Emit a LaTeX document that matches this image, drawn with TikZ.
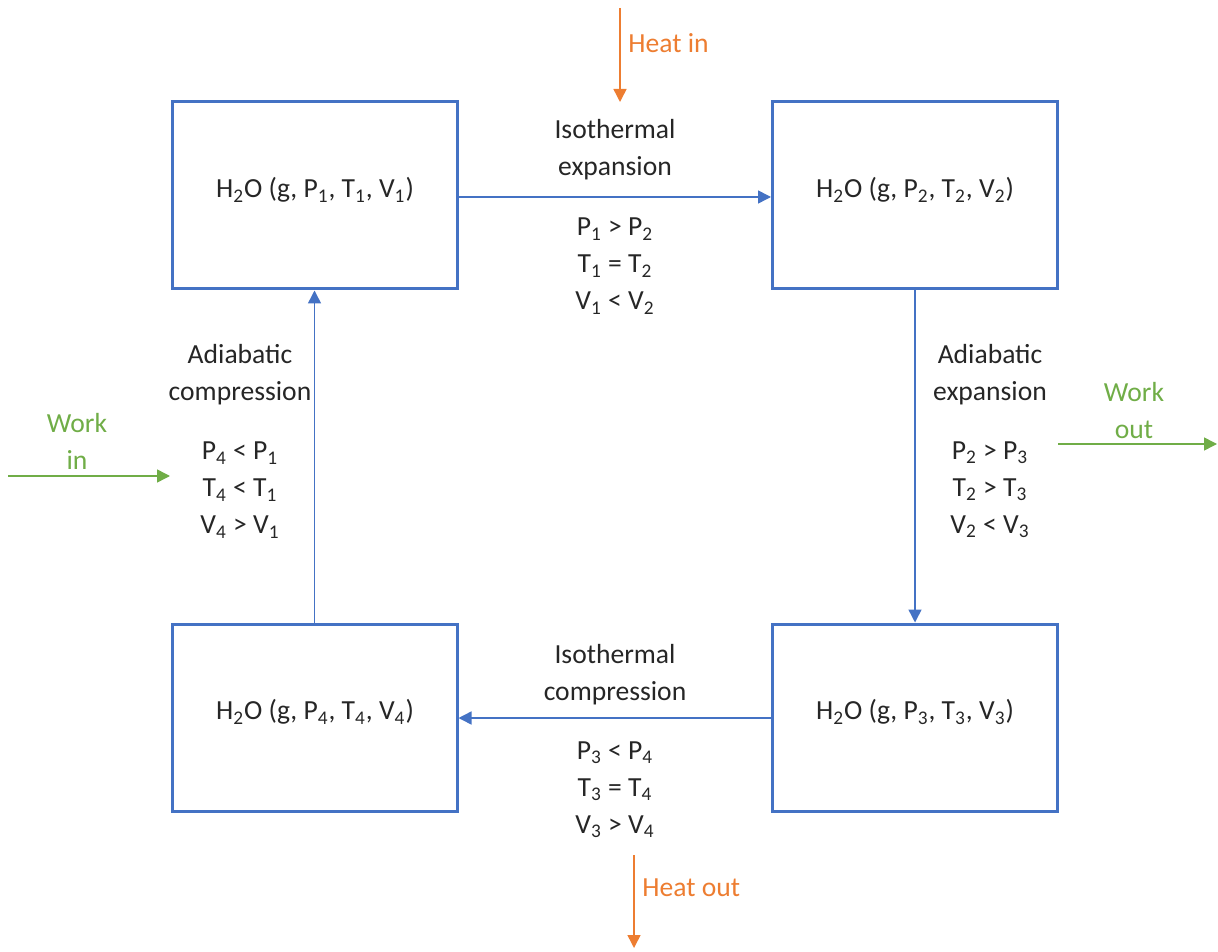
\documentclass[tikz,border=0pt]{standalone}
\usepackage{fontspec}
\setmainfont{Carlito}
\usetikzlibrary{arrows.meta}
\definecolor{boxblue}{HTML}{4472C4}
\definecolor{heatorange}{HTML}{ED7D31}
\definecolor{workgreen}{HTML}{70AD47}
\definecolor{txt}{HTML}{262626}
\newcommand{\sbs}[1]{\textsubscript{#1}}
\begin{document}
\begin{tikzpicture}[x=0.5pt,y=-0.5pt,
  every node/.style={font=\fontsize{13.8}{18.5}\selectfont, text=txt, align=center, inner sep=0pt},
  statebox/.style={draw=boxblue, line width=1.5pt, minimum width=142.5pt, minimum height=93.5pt},
  flow/.style={draw=boxblue, line width=0.75pt, -{Triangle[length=6.5pt,width=6.5pt]}},
  heat/.style={draw=heatorange, line width=0.75pt, -{Triangle[length=6.5pt,width=6.5pt]}},
  work/.style={draw=workgreen, line width=0.75pt, -{Triangle[length=6.5pt,width=6.5pt]}},
  heatlbl/.style={text=heatorange},
  worklbl/.style={text=workgreen}]
\useasboundingbox (0,0) rectangle (1218,951);
% boxes
\node[statebox] (s1) at (314.5,195.5) {};
\node[statebox] (s2) at (915,195.5) {};
\node[statebox] (s3) at (915,717.5) {};
\node[statebox] (s4) at (314.5,717.5) {};
\node (t1) at (315,190) {H\sbs{2}O (g, P\sbs{1}, T\sbs{1}, V\sbs{1})};
\node (t2) at (915,190) {H\sbs{2}O (g, P\sbs{2}, T\sbs{2}, V\sbs{2})};
\node (t3) at (915,712) {H\sbs{2}O (g, P\sbs{3}, T\sbs{3}, V\sbs{3})};
\node (t4) at (315,712) {H\sbs{2}O (g, P\sbs{4}, T\sbs{4}, V\sbs{4})};
% cycle connectors
\draw[flow] (s1.east |- 0,197) -- (s2.west |- 0,197);
\draw[flow] (s2.south) -- (s3.north);
\draw[flow] (s3.west |- 0,718) -- (s4.east |- 0,718);
\draw[flow] (s4.north) -- (s1.north |- s1.south);
% process labels
\node (l12) at (615,150) {Isothermal\\expansion};
\node (r12) at (615,266) {P\sbs{1} > P\sbs{2}\\T\sbs{1} = T\sbs{2}\\V\sbs{1} < V\sbs{2}};
\node (l23) at (990,375) {Adiabatic\\expansion};
\node (r23) at (990,490) {P\sbs{2} > P\sbs{3}\\T\sbs{2} > T\sbs{3}\\V\sbs{2} < V\sbs{3}};
\node (l34) at (615,675) {Isothermal\\compression};
\node (r34) at (615,790) {P\sbs{3} < P\sbs{4}\\T\sbs{3} = T\sbs{4}\\V\sbs{3} > V\sbs{4}};
\node (l41) at (240,375) {Adiabatic\\compression};
\node (r41) at (240,490) {P\sbs{4} < P\sbs{1}\\T\sbs{4} < T\sbs{1}\\V\sbs{4} > V\sbs{1}};
% heat
\coordinate (hin0) at (620,8);
\coordinate (hin1) at (620,102);
\draw[heat] (hin0) -- (hin1);
\node[heatlbl, anchor=west] (hinl) at (628,43) {Heat in};
\coordinate (hout0) at (634,855);
\coordinate (hout1) at (634,948);
\draw[heat] (hout0) -- (hout1);
\node[heatlbl, anchor=west] (houtl) at (642,888) {Heat out};
% work
\coordinate (win0) at (8,476);
\coordinate (win1) at (170,476);
\draw[work] (win0) -- (win1);
\node[worklbl] (winl) at (77,441) {Work\\in};
\coordinate (wout0) at (1058,444);
\coordinate (wout1) at (1217,444);
\draw[work] (wout0) -- (wout1);
\node[worklbl] (woutl) at (1134,411) {Work\\out};
\end{tikzpicture}
\end{document}
